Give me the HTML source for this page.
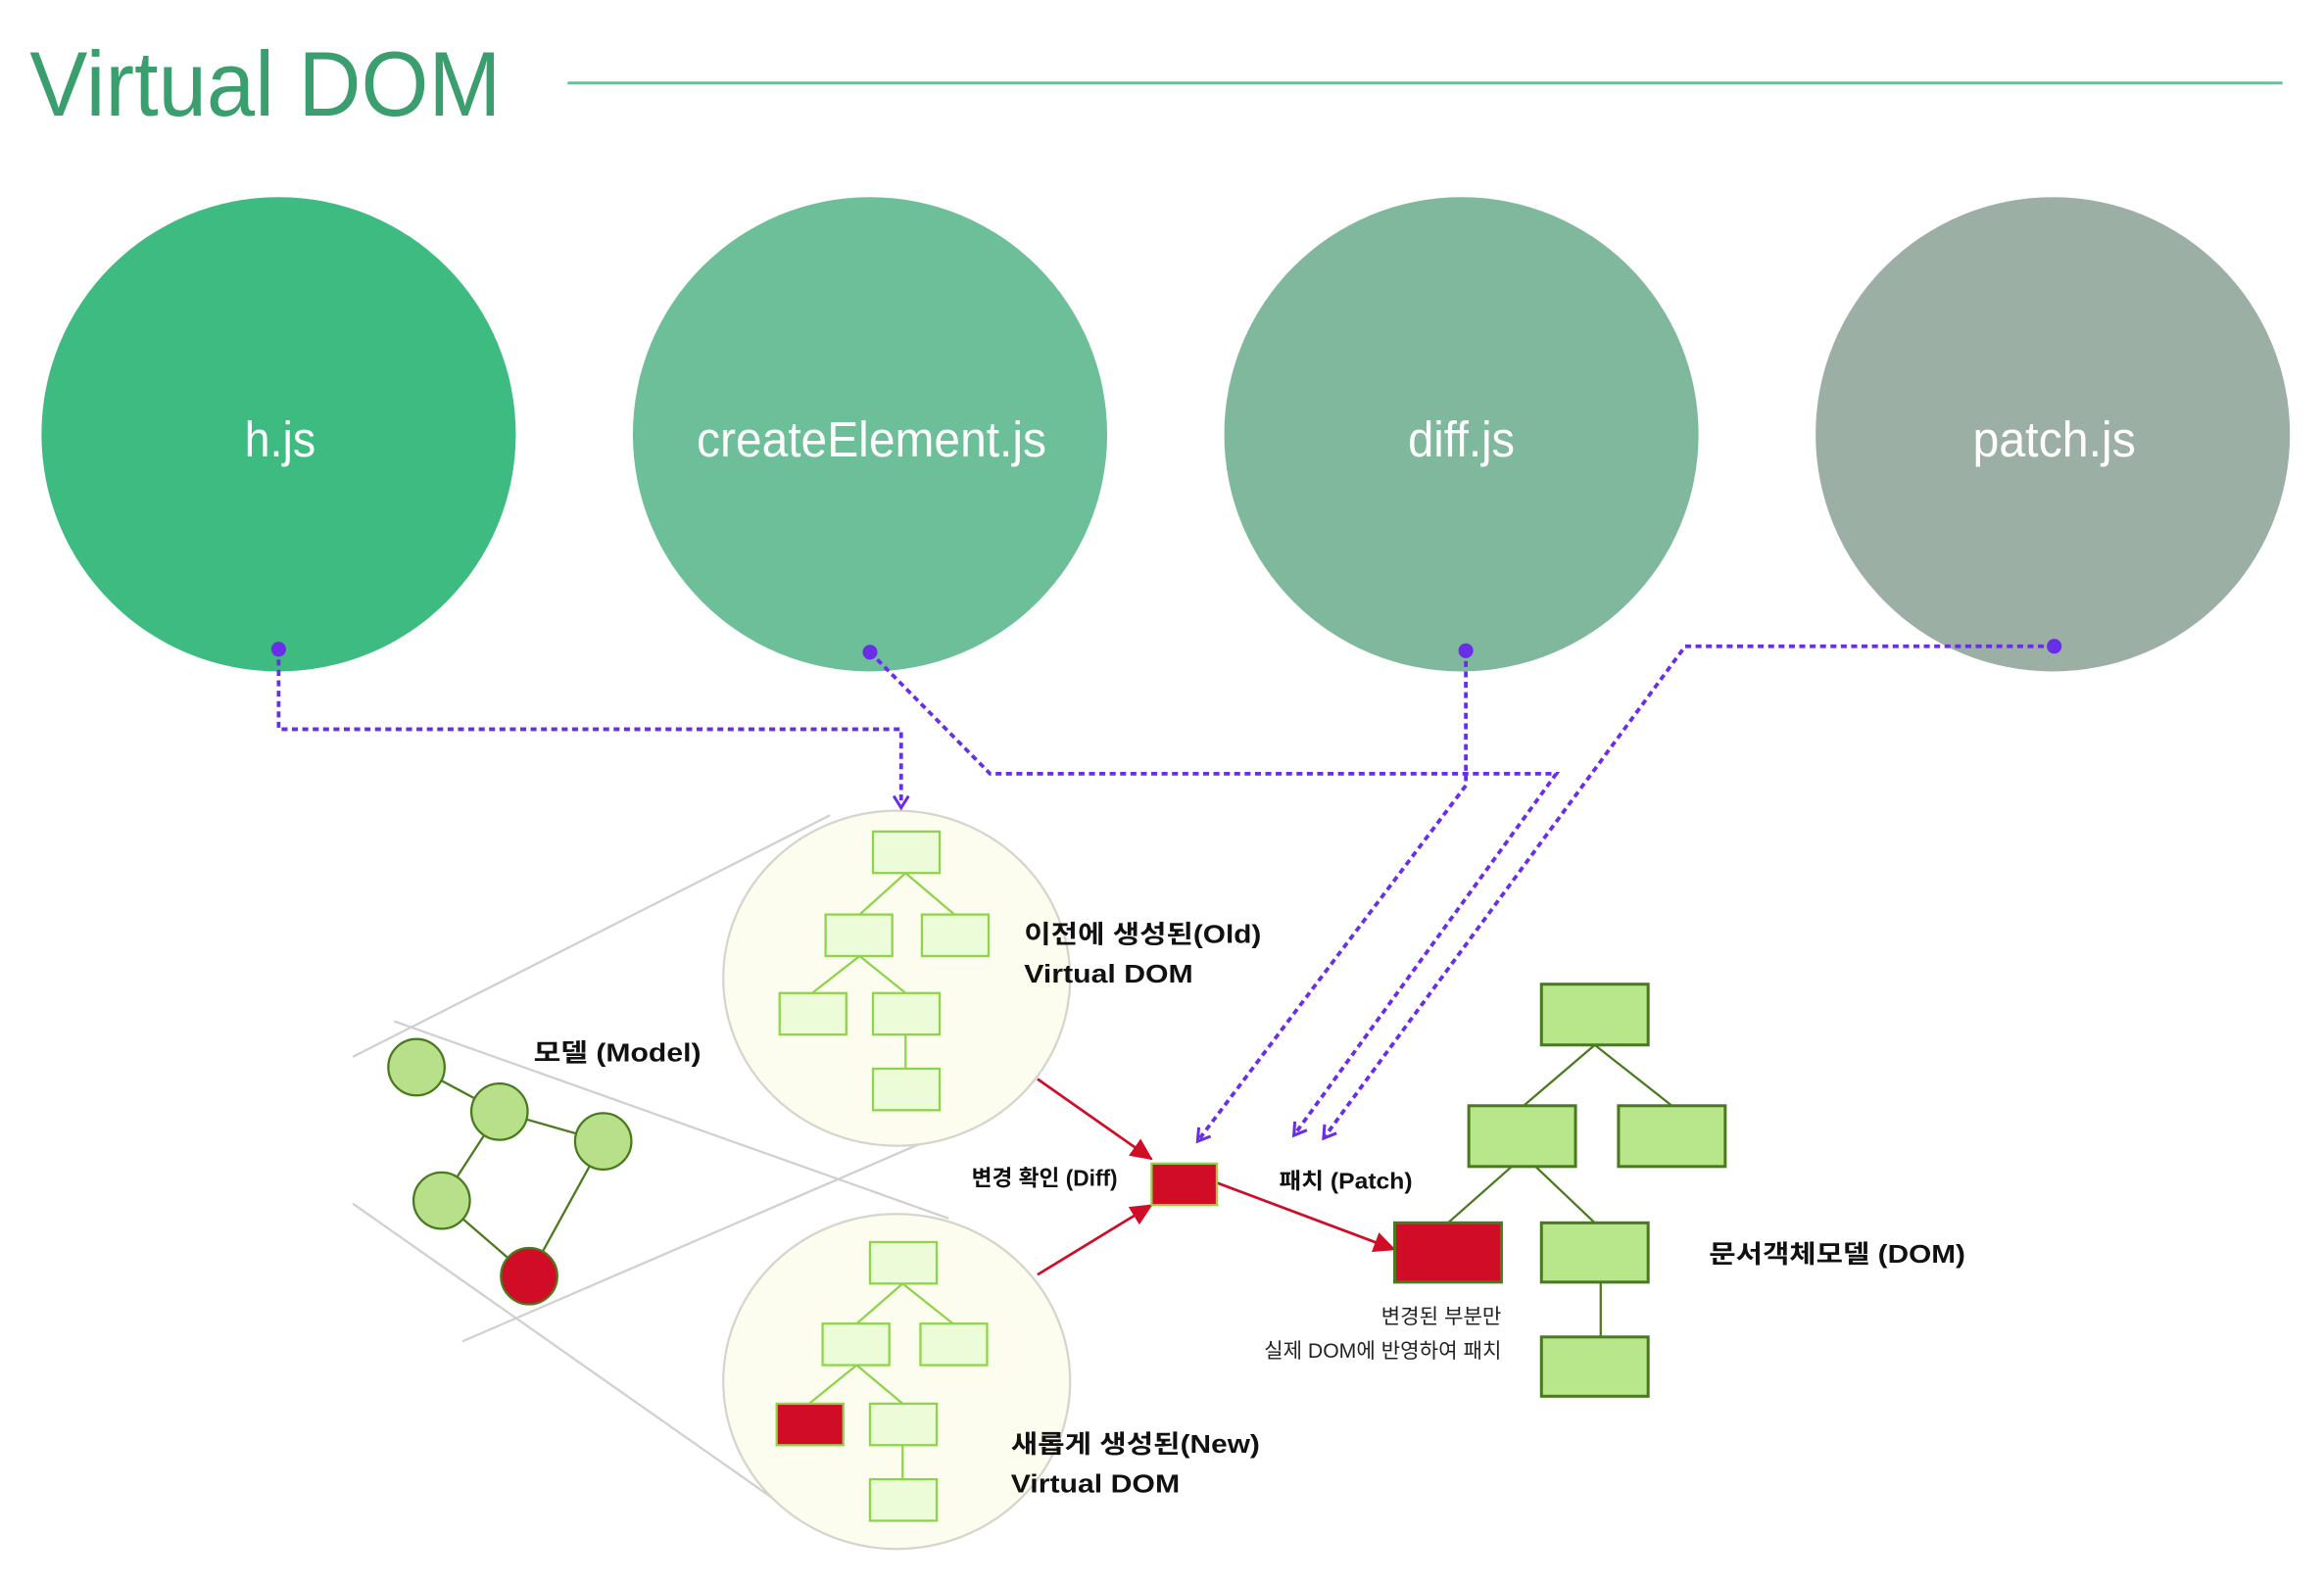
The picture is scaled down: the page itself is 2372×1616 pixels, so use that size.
<!DOCTYPE html>
<html><head><meta charset="utf-8"><style>
html,body{margin:0;padding:0;background:#fff;}
svg{display:block;}
text{font-family:"Liberation Sans","Noto Sans CJK KR",sans-serif;}
</style></head><body>
<svg width="2372" height="1616" viewBox="0 0 1568 1068" preserveAspectRatio="none" xmlns="http://www.w3.org/2000/svg">
<defs>
<marker id="pa" markerWidth="12" markerHeight="12" refX="9" refY="6" orient="auto" markerUnits="userSpaceOnUse"><path d="M1,1 L9,6 L1,11" fill="none" stroke="#6a2ee8" stroke-width="2"/></marker>
<marker id="ra" markerWidth="16" markerHeight="14" refX="14" refY="7" orient="auto" markerUnits="userSpaceOnUse"><path d="M0,0 L15,7 L0,14 Z" fill="#d00c27"/></marker>
</defs>
<text x="20" y="78" font-size="62" fill="#3a9e6e" font-weight="300" textLength="318" lengthAdjust="spacingAndGlyphs">Virtual DOM</text>
<line x1="383" y1="56" x2="1540" y2="56" stroke="#5cc795" stroke-width="2"/>
<circle cx="188" cy="293" r="160" fill="#3dbb80"/>
<circle cx="587" cy="293" r="160" fill="#6cbf98"/>
<circle cx="986" cy="293" r="160" fill="#80b89e"/>
<circle cx="1385" cy="293" r="160" fill="#9cafa5"/>
<g fill="#fff" font-size="34" text-anchor="middle">
<text x="189" y="308" textLength="48" lengthAdjust="spacingAndGlyphs">h.js</text>
<text x="588" y="308" textLength="236" lengthAdjust="spacingAndGlyphs">createElement.js</text>
<text x="986" y="308" textLength="72" lengthAdjust="spacingAndGlyphs">diff.js</text>
<text x="1386" y="308" textLength="110" lengthAdjust="spacingAndGlyphs">patch.js</text>
</g>
<g stroke="#d0d0d0" stroke-width="1.5">
<line x1="238" y1="713" x2="560" y2="550"/>
<line x1="266" y1="689" x2="640" y2="822"/>
<line x1="238" y1="812" x2="553" y2="1033"/>
<line x1="312" y1="905" x2="671" y2="750"/>
</g>
<ellipse cx="605" cy="660" rx="117" ry="113" fill="#fdfdef" stroke="#d5d5cc" stroke-width="1.5"/>
<ellipse cx="605" cy="932" rx="117" ry="113" fill="#fdfdef" stroke="#d5d5cc" stroke-width="1.5"/>
<g stroke="#8ed44a" stroke-width="1.5" fill="none">
<path d="M611,589 L580,617 M611,589 L644,617 M580,645 L548,670 M580,645 L611,670 M611,698 L611,721"/>
<path d="M609,866 L578,893 M609,866 L643,893 M578,921 L546,947 M578,921 L609,947 M609,975 L609,998"/>
</g>
<g fill="#ecfcd8" stroke="#8ed44a" stroke-width="1.5">
<rect x="589" y="561" width="45" height="28"/>
<rect x="557" y="617" width="45" height="28"/>
<rect x="622" y="617" width="45" height="28"/>
<rect x="526" y="670" width="45" height="28"/>
<rect x="589" y="670" width="45" height="28"/>
<rect x="589" y="721" width="45" height="28"/>
<rect x="587" y="838" width="45" height="28"/>
<rect x="555" y="893" width="45" height="28"/>
<rect x="621" y="893" width="45" height="28"/>
<rect x="587" y="947" width="45" height="28"/>
<rect x="587" y="998" width="45" height="28"/>
</g>
<rect x="524" y="947" width="45" height="28" fill="#d00c27" stroke="#8ed44a" stroke-width="1.5"/>
<g stroke="#4a7a1e" stroke-width="1.5">
<line x1="281" y1="720" x2="337" y2="750"/>
<line x1="337" y1="750" x2="407" y2="770"/>
<line x1="337" y1="750" x2="298" y2="810"/>
<line x1="298" y1="810" x2="357" y2="861"/>
<line x1="407" y1="770" x2="357" y2="861"/>
</g>
<g fill="#b8e08a" stroke="#4a7a1e" stroke-width="1.5">
<circle cx="281" cy="720" r="19"/>
<circle cx="337" cy="750" r="19"/>
<circle cx="407" cy="770" r="19"/>
<circle cx="298" cy="810" r="19"/>
</g>
<circle cx="357" cy="861" r="19" fill="#d00c27" stroke="#4a7a1e" stroke-width="1.5"/>
<g font-size="17" font-weight="bold" fill="#111">
<text x="360" y="716" textLength="113" lengthAdjust="spacingAndGlyphs">모델 (Model)</text>
<text x="691" y="636" textLength="160" lengthAdjust="spacingAndGlyphs">이전에 생성된(Old)</text>
<text x="691" y="663" textLength="114" lengthAdjust="spacingAndGlyphs">Virtual DOM</text>
<text x="682" y="980" textLength="168" lengthAdjust="spacingAndGlyphs">새롭게 생성된(New)</text>
<text x="682" y="1007" textLength="114" lengthAdjust="spacingAndGlyphs">Virtual DOM</text>
<text x="1153" y="852" textLength="173" lengthAdjust="spacingAndGlyphs">문서객체모델 (DOM)</text>
<text x="754" y="800" font-size="15" text-anchor="end">변경 확인 (Diff)</text>
<text x="863" y="802" font-size="15" textLength="90" lengthAdjust="spacingAndGlyphs">패치 (Patch)</text>
</g>
<g font-size="14" fill="#222" text-anchor="end">
<text x="1013" y="893">변경된 부분만</text>
<text x="1013" y="916">실제 DOM에 반영하여 패치</text>
</g>
<g stroke="#d00c27" stroke-width="1.8" marker-end="url(#ra)">
<line x1="700" y1="728" x2="777" y2="782"/>
<line x1="700" y1="860" x2="777" y2="813"/>
<line x1="821" y1="798" x2="941" y2="843"/>
</g>
<rect x="777" y="785" width="44" height="28" fill="#d00c27" stroke="#8ed44a" stroke-width="1.5"/>
<g stroke="#4a7a1e" stroke-width="1.5">
<line x1="1076" y1="705" x2="1028" y2="746"/>
<line x1="1076" y1="705" x2="1128" y2="746"/>
<line x1="1020" y1="787" x2="977" y2="825"/>
<line x1="1036" y1="787" x2="1076" y2="825"/>
<line x1="1080" y1="865" x2="1080" y2="902"/>
</g>
<g fill="#b8e68a" stroke="#4a7a1e" stroke-width="2">
<rect x="1040" y="664" width="72" height="41"/>
<rect x="991" y="746" width="72" height="41"/>
<rect x="1092" y="746" width="72" height="41"/>
<rect x="1040" y="825" width="72" height="40"/>
<rect x="1040" y="902" width="72" height="40"/>
</g>
<rect x="941" y="825" width="72" height="40" fill="#d00c27" stroke="#4a7a1e" stroke-width="2"/>
<g fill="none" stroke="#6a2ee8" stroke-width="2.5" stroke-dasharray="4 3" marker-end="url(#pa)">
<path d="M188,438 L188,492 L608,492 L608,545"/>
<path d="M587,440 L668,522 L1050,522 L873,766"/>
<path d="M989,439 L989,530 L808,770"/>
<path d="M1386,436 L1137,436 L893,768"/>
</g>
<g fill="#6a2ee8">
<circle cx="188" cy="438" r="5"/>
<circle cx="587" cy="440" r="5"/>
<circle cx="989" cy="439" r="5"/>
<circle cx="1386" cy="436" r="5"/>
</g>
</svg>
</body></html>
